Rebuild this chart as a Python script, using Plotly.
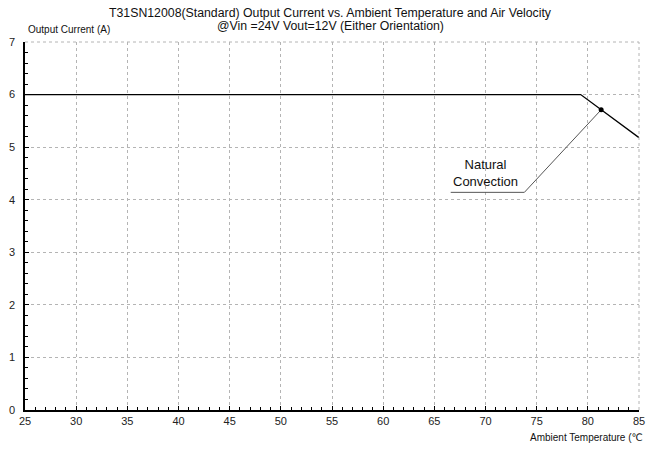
import plotly.graph_objects as go

temps = [25, 79.3, 85]
current = [6.0, 6.0, 5.18]
marker_x = [81.3]
marker_y = [5.71]
leader_x = [81.3, 73.8, 66.6]
leader_y = [5.71, 4.14, 4.14]
x_ticks = list(range(25, 90, 5))
y_ticks = list(range(0, 8))

fig = go.Figure()
fig.add_trace(go.Scatter(x=temps, y=current, mode="lines",
                         line=dict(color="black", width=1.3), showlegend=False, hoverinfo="skip"))
fig.add_trace(go.Scatter(x=leader_x, y=leader_y, mode="lines",
                         line=dict(color="#555555", width=1), showlegend=False, hoverinfo="skip"))
fig.add_trace(go.Scatter(x=marker_x, y=marker_y, mode="markers",
                         marker=dict(color="black", size=5), showlegend=False, hoverinfo="skip"))

fig.add_annotation(x=70.0, y=4.5, text="Natural<br>Convection", showarrow=False,
                   font=dict(family="Liberation Sans, Arial", size=13, color="#111"),
                   xanchor="center", yanchor="middle")

font = dict(family="Liberation Sans, Arial", size=11, color="#222")
grid = "#b4b4b4"
fig.update_layout(
    width=646, height=453,
    margin=dict(l=25, r=7, t=42, b=43, autoexpand=False),
    paper_bgcolor="white", plot_bgcolor="white",
    font=font,
    xaxis=dict(range=[25, 85], tickvals=x_ticks, showgrid=True, gridcolor=grid,
               griddash="dot", gridwidth=1, showline=True, linecolor="black", linewidth=1.5,
               ticks="inside", ticklen=4, tickcolor="black", zeroline=False,
               ticklabeloverflow="allow", automargin=False,
               minor=dict(dtick=1, ticks="inside", ticklen=3, tickcolor="black", showgrid=False),
               tickfont=font),
    yaxis=dict(range=[0, 7], tickvals=y_ticks, showgrid=True, gridcolor=grid,
               griddash="dot", gridwidth=1, showline=True, linecolor="black", linewidth=1.5,
               ticks="inside", ticklen=4, tickcolor="black", zeroline=False,
               automargin=False, ticklabelstandoff=6,
               minor=dict(dtick=0.2, ticks="inside", ticklen=3, tickcolor="black", showgrid=False),
               tickfont=font),
)
fig.add_shape(type="line", xref="paper", yref="paper", x0=0, x1=1, y0=1, y1=1,
              line=dict(color=grid, width=1, dash="dot"))
fig.add_shape(type="line", xref="paper", yref="paper", x0=1, x1=1, y0=0, y1=1,
              line=dict(color=grid, width=1, dash="dot"))

tfont = dict(family="Liberation Sans, Arial", size=12.3, color="#111")
fig.add_annotation(xref="paper", yref="paper", x=0.497, y=1, yshift=29, showarrow=False,
                   text="T31SN12008(Standard) Output Current vs. Ambient Temperature and Air Velocity",
                   font=tfont, xanchor="center", yanchor="middle")
fig.add_annotation(xref="paper", yref="paper", x=0.497, y=1, yshift=16, showarrow=False,
                   text="@Vin =24V Vout=12V (Either Orientation)",
                   font=tfont, xanchor="center", yanchor="middle")
fig.add_annotation(xref="paper", yref="paper", x=0, y=1, yshift=13, xshift=1, showarrow=False,
                   text="Output Current (A)", font=dict(family="Liberation Sans, Arial", size=10, color="#111"),
                   xanchor="left", yanchor="middle")
fig.add_annotation(xref="paper", yref="paper", x=1, y=0, yshift=-27, xshift=6, showarrow=False,
                   text="Ambient Temperature (℃", font=dict(family="Liberation Sans, DejaVu Sans", size=10, color="#111"),
                   xanchor="right", yanchor="middle")

fig.write_html("out.html", config={"displayModeBar": False},
               post_script="document.body.style.margin='0';document.body.style.overflow='hidden';")
